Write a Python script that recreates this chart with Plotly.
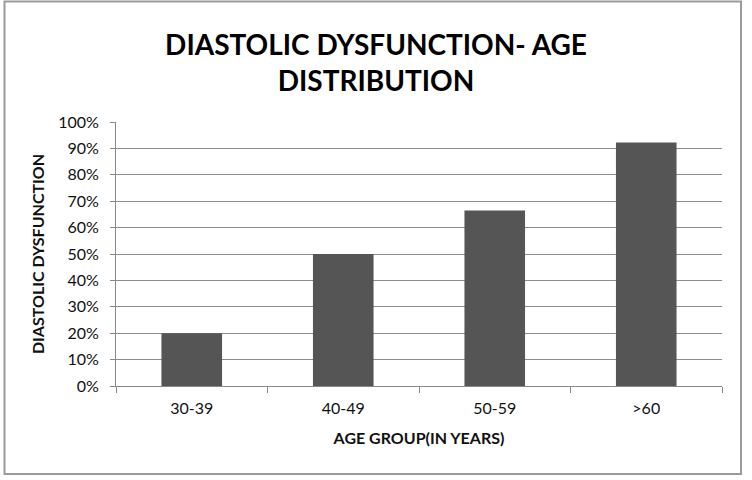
import plotly.graph_objects as go

categories = ["30-39", "40-49", "50-59", ">60"]
values = [20, 50, 66.5, 92.2]
y_ticks = list(range(0, 101, 10))
y_tick_labels = [f"{v}%" for v in y_ticks]

W, H = 752, 480
ml, mr, mt, mb = 116, 30, 122, 94
pw, ph = W - ml - mr, H - mt - mb

FONT = "Lato"

fig = go.Figure(go.Bar(
    x=categories, y=values,
    marker=dict(color="#555555", line=dict(width=0)),
    width=0.4,
))

fig.update_layout(
    width=W, height=H,
    margin=dict(l=ml, r=mr, t=mt, b=mb),
    paper_bgcolor="white", plot_bgcolor="white",
    showlegend=False,
    title=dict(
        text="DIASTOLIC DYSFUNCTION- AGE<br>DISTRIBUTION",
        x=0.5, xanchor="center", y=1 - 55 / H, yanchor="middle",
        font=dict(family=FONT, size=28, color="black", weight="bold"),
    ),
    font=dict(family=FONT, color="#222"),
)

fig.update_xaxes(
    type="category",
    tickson="boundaries", ticks="outside", ticklen=6, tickcolor="#888",
    showline=True, linecolor="#888", linewidth=1,
    tickfont=dict(size=16, color="#111"),
    ticklabelstandoff=8,
    title=dict(text="AGE GROUP(IN YEARS)", standoff=16,
               font=dict(size=16, color="#111", weight="bold")),
    showgrid=False,
)
fig.update_yaxes(
    range=[0, 100], tickvals=y_ticks, ticktext=y_tick_labels,
    ticks="outside", ticklen=5, tickcolor="#888",
    showline=True, linecolor="#888", linewidth=1,
    showgrid=True, gridcolor="#8c8c8c", gridwidth=1,
    zeroline=False,
    tickfont=dict(size=16, color="#111"),
    ticklabelstandoff=8,
    title=dict(text="DIASTOLIC DYSFUNCTION", standoff=9,
               font=dict(size=16, color="#111", weight="bold")),
)

# outer chart border
fig.add_shape(
    type="rect", xref="paper", yref="paper",
    x0=(4.5 - ml) / pw, x1=(741 - ml) / pw,
    y0=(H - mb - 474) / ph, y1=(H - mb - 1.5) / ph,
    line=dict(color="#9a9a9a", width=2), layer="below",
)

fig.write_html("out.html")
